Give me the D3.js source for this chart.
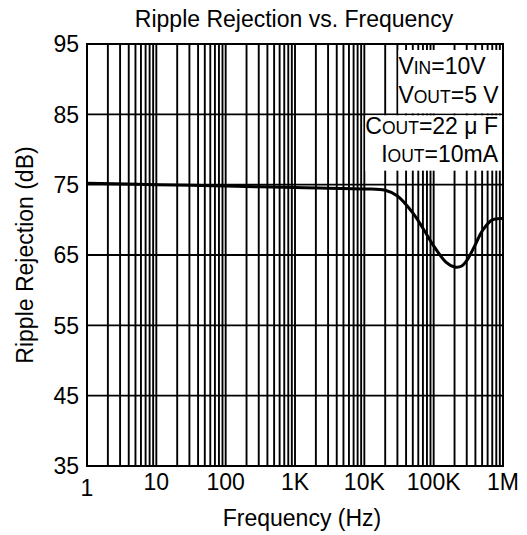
<!DOCTYPE html>
<html>
<head>
<meta charset="utf-8">
<script src="https://cdn.jsdelivr.net/npm/d3@7"></script>
<style>
  html, body { margin: 0; padding: 0; background: #fff; }
  svg { display: block; font-family: "Liberation Sans", Arial, sans-serif; }
</style>
</head>
<body>
<svg id="chart" width="527" height="535"></svg>
<script>
// ---- data ----
const title = "Ripple Rejection vs. Frequency";
const xLabel = "Frequency (Hz)";
const yLabel = "Ripple Rejection (dB)";
const freq = [1, 10, 100, 1000, 10000, 20000, 30000, 50000, 70000, 100000, 150000, 200000, 250000, 300000, 400000, 500000, 700000, 1000000];
const rejection = [75.2, 75.0, 74.8, 74.6, 74.4, 74.2, 73.4, 71.0, 68.8, 66.3, 64.0, 63.3, 63.4, 64.2, 66.5, 68.4, 70.0, 70.2];
const xTickValues = [1, 10, 100, 1000, 10000, 100000, 1000000];
const xTickLabels = ["1", "10", "100", "1K", "10K", "100K", "1M"];
const yTickValues = [35, 45, 55, 65, 75, 85, 95];
const legendLines1 = [["V", "IN", "=10V"], ["V", "OUT", "=5 V"]];
const legendLines2 = [["C", "OUT", "=22 μ F"], ["I", "OUT", "=10mA"]];

// ---- layout ----
const svg = d3.select("#chart");
const L = 87, R = 503, T = 44, B = 466;
const x = d3.scaleLog().domain([1, 1e6]).range([L, R]);
const y = d3.scaleLinear().domain([35, 95]).range([B, T]);

// minor grid values
const gridX = [];
for (let e = 0; e < 6; e++) for (let m = 1; m <= 9; m++) gridX.push(m * Math.pow(10, e));
gridX.push(1e6);

const g = svg.append("g");
// vertical grid
g.selectAll("line.vx").data(gridX).enter().append("line")
  .attr("x1", d => x(d)).attr("x2", d => x(d))
  .attr("y1", T).attr("y2", B)
  .attr("stroke", "#000").attr("stroke-width", 1.9);
// horizontal grid
g.selectAll("line.hy").data(yTickValues).enter().append("line")
  .attr("x1", L).attr("x2", R)
  .attr("y1", d => y(d)).attr("y2", d => y(d))
  .attr("stroke", "#000").attr("stroke-width", 1.9);

// legend white boxes
g.append("rect")
  .attr("x", x(30000) + 1).attr("y", y(95) + 6)
  .attr("width", x(1e6) - x(30000) - 2).attr("height", y(85) - y(95) - 7)
  .attr("fill", "#fff");
g.append("rect")
  .attr("x", x(10000) + 1).attr("y", y(85) + 1)
  .attr("width", x(1e6) - x(10000) - 2).attr("height", y(75) - y(85) - 15)
  .attr("fill", "#fff");

// frame
g.append("rect").attr("x", L).attr("y", T).attr("width", R - L).attr("height", B - T)
  .attr("fill", "none").attr("stroke", "#000").attr("stroke-width", 2);

// curve
const pts = freq.map((f, i) => [f, rejection[i]]);
g.append("path").datum(pts)
  .attr("d", d3.line().x(d => x(d[0])).y(d => y(d[1])).curve(d3.curveCatmullRom.alpha(0.5)))
  .attr("fill", "none").attr("stroke", "#000").attr("stroke-width", 3);

// legend text
function legend(lines, baselines, xPos, anchor) {
  lines.forEach((ln, i) => {
    const t = svg.append("text").attr("x", xPos).attr("y", baselines[i])
      .attr("text-anchor", anchor).attr("font-size", 23).attr("fill", "#000");
    t.append("tspan").text(ln[0]);
    t.append("tspan").attr("font-size", 17.5).text(ln[1]);
    t.append("tspan").text(ln[2]);
  });
}
legend(legendLines1, [74, 103], x(30000) + 1, "start");
legend(legendLines2, [134, 162], 498, "end");

// y tick labels
svg.selectAll("text.yt").data(yTickValues).enter().append("text")
  .attr("x", 79).attr("y", d => y(d)).attr("dy", "0.36em")
  .attr("text-anchor", "end").attr("font-size", 23).text(d => d);

// x tick labels
svg.selectAll("text.xt").data(xTickValues).enter().append("text")
  .attr("x", d => x(d)).attr("y", (d, i) => i === 0 ? 496 : 490)
  .attr("text-anchor", "middle").attr("font-size", 23).text((d, i) => xTickLabels[i]);

// titles
svg.append("text").attr("x", 294).attr("y", 27).attr("text-anchor", "middle")
  .attr("font-size", 23).text(title);
svg.append("text").attr("x", 302).attr("y", 526).attr("text-anchor", "middle")
  .attr("font-size", 23).text(xLabel);
svg.append("text").attr("transform", "translate(33,255) rotate(-90)")
  .attr("text-anchor", "middle").attr("font-size", 23).text(yLabel);
</script>
</body>
</html>
